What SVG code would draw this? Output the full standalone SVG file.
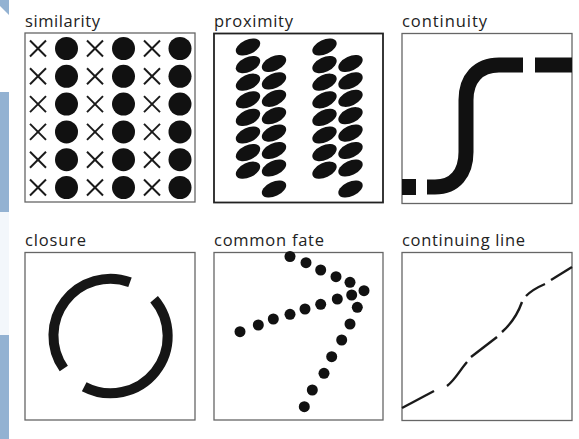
<svg xmlns="http://www.w3.org/2000/svg" width="579" height="439" viewBox="0 0 579 439">
<defs>
<style>
.bg{fill:#ffffff}
.strip{fill:#93b2d2}
.title{font-family:"Open Sans","DejaVu Sans",sans-serif;font-size:16.5px;fill:#222}
.box{fill:#fff;stroke:#666;stroke-width:1.3}
.box2{fill:#fff;stroke:#222;stroke-width:1.8}
.x{stroke:#1a1a1a;stroke-width:2;stroke-linecap:butt}
.dot{fill:#111}
.ell{fill:#111}
.thick{fill:none;stroke:#111;stroke-width:15;stroke-linecap:butt}
.ring{fill:none;stroke:#161616;stroke-width:10;stroke-linecap:butt}
.dash{fill:none;stroke:#1a1a1a;stroke-width:2.4;stroke-linecap:butt}
</style>
<g id="xm"><line class="x" x1="-8" y1="-8" x2="8" y2="8"/><line class="x" x1="-8" y1="8" x2="8" y2="-8"/></g>
<ellipse id="el" class="ell" rx="13" ry="7.3" transform="rotate(-25)"/>
</defs>
<rect class="bg" x="0" y="0" width="579" height="439"/>
<g id="edge">
<polygon class="strip" points="0,0 9,0 9,15 0,6"/>
<rect class="strip" x="0" y="92" width="9" height="120"/>
<rect x="0" y="212" width="9" height="123" fill="#f3f7fb"/>
<rect class="strip" x="0" y="335" width="9" height="104"/>
</g>

<g id="similarity">
<rect class="box" x="25" y="33" width="170" height="169"/>
<text class="title" x="25" y="27" textLength="75" lengthAdjust="spacing">similarity</text>
<g>
<use href="#xm" x="38" y="48.5"/><use href="#xm" x="95" y="48.5"/><use href="#xm" x="152" y="48.5"/>
<use href="#xm" x="38" y="76.3"/><use href="#xm" x="95" y="76.3"/><use href="#xm" x="152" y="76.3"/>
<use href="#xm" x="38" y="104.1"/><use href="#xm" x="95" y="104.1"/><use href="#xm" x="152" y="104.1"/>
<use href="#xm" x="38" y="131.9"/><use href="#xm" x="95" y="131.9"/><use href="#xm" x="152" y="131.9"/>
<use href="#xm" x="38" y="159.7"/><use href="#xm" x="95" y="159.7"/><use href="#xm" x="152" y="159.7"/>
<use href="#xm" x="38" y="187.5"/><use href="#xm" x="95" y="187.5"/><use href="#xm" x="152" y="187.5"/>
</g>
<g>
<circle class="dot" cx="66.5" cy="48.5" r="11.5"/><circle class="dot" cx="123.5" cy="48.5" r="11.5"/><circle class="dot" cx="180" cy="48.5" r="11.5"/>
<circle class="dot" cx="66.5" cy="76.3" r="11.5"/><circle class="dot" cx="123.5" cy="76.3" r="11.5"/><circle class="dot" cx="180" cy="76.3" r="11.5"/>
<circle class="dot" cx="66.5" cy="104.1" r="11.5"/><circle class="dot" cx="123.5" cy="104.1" r="11.5"/><circle class="dot" cx="180" cy="104.1" r="11.5"/>
<circle class="dot" cx="66.5" cy="131.9" r="11.5"/><circle class="dot" cx="123.5" cy="131.9" r="11.5"/><circle class="dot" cx="180" cy="131.9" r="11.5"/>
<circle class="dot" cx="66.5" cy="159.7" r="11.5"/><circle class="dot" cx="123.5" cy="159.7" r="11.5"/><circle class="dot" cx="180" cy="159.7" r="11.5"/>
<circle class="dot" cx="66.5" cy="187.5" r="11.5"/><circle class="dot" cx="123.5" cy="187.5" r="11.5"/><circle class="dot" cx="180" cy="187.5" r="11.5"/>
</g>
</g>

<g id="proximity">
<rect class="box2" x="214" y="33.5" width="169" height="169"/>
<text class="title" x="214" y="26.5" textLength="79" lengthAdjust="spacing">proximity</text>
<g transform="translate(248,0)">
<use href="#el" y="47"/><use href="#el" y="64.6"/><use href="#el" y="82.2"/><use href="#el" y="99.8"/><use href="#el" y="117.4"/><use href="#el" y="135"/><use href="#el" y="152.6"/><use href="#el" y="170.2"/>
</g>
<g transform="translate(274,0)">
<use href="#el" y="63.5"/><use href="#el" y="80.9"/><use href="#el" y="98.3"/><use href="#el" y="115.7"/><use href="#el" y="133.1"/><use href="#el" y="150.5"/><use href="#el" y="168"/><use href="#el" y="189"/>
</g>
<g transform="translate(324.5,0)">
<use href="#el" y="47"/><use href="#el" y="64.6"/><use href="#el" y="82.2"/><use href="#el" y="99.8"/><use href="#el" y="117.4"/><use href="#el" y="135"/><use href="#el" y="152.6"/><use href="#el" y="170.2"/>
</g>
<g transform="translate(350.5,0)">
<use href="#el" y="63.5"/><use href="#el" y="80.9"/><use href="#el" y="98.3"/><use href="#el" y="115.7"/><use href="#el" y="133.1"/><use href="#el" y="150.5"/><use href="#el" y="168"/><use href="#el" y="189"/>
</g>
</g>

<g id="continuity">
<rect class="box" x="402" y="33.5" width="170" height="170"/>
<text class="title" x="402" y="26.5" textLength="85" lengthAdjust="spacing">continuity</text>
<path class="thick" d="M427,187 H435 C455,187 466,173 466,152 V100 C466,79 478,65 499,65 H523"/>
<path class="thick" d="M535,65 H572"/>
<rect x="402" y="179" width="14" height="16" fill="#111"/>
</g>

<g id="closure">
<rect class="box" x="25" y="252.5" width="170" height="167.5"/>
<text class="title" x="25" y="246" textLength="61" lengthAdjust="spacing">closure</text>
<path class="ring" d="M63.8,368.5 A57,57 0 0 1 130,282.2"/>
<path class="ring" d="M154.1,299.3 A57,57 0 0 1 84.2,386.7"/>
</g>

<g id="commonfate">
<rect class="box" x="214" y="252.5" width="169" height="167.5"/>
<text class="title" x="214" y="246" textLength="110" lengthAdjust="spacing">common fate</text>
<g class="dot">
<circle cx="290" cy="256.5" r="5.5"/><circle cx="306" cy="262.7" r="5.5"/><circle cx="320.7" cy="270" r="5.5"/><circle cx="336" cy="276.7" r="5.5"/><circle cx="350" cy="282.3" r="5.5"/><circle cx="364" cy="290.7" r="5.5"/>
<circle cx="240" cy="331.7" r="5.5"/><circle cx="258.3" cy="325" r="5.5"/><circle cx="273.3" cy="319" r="5.5"/><circle cx="290" cy="314.3" r="5.5"/><circle cx="305" cy="309" r="5.5"/><circle cx="320.7" cy="304.3" r="5.5"/><circle cx="337.3" cy="299" r="5.5"/><circle cx="351.7" cy="295" r="5.5"/>
<circle cx="357.3" cy="307.3" r="5.5"/><circle cx="350" cy="324" r="5.5"/><circle cx="341.7" cy="340" r="5.5"/><circle cx="331.7" cy="356.7" r="5.5"/><circle cx="324" cy="373.3" r="5.5"/><circle cx="312.3" cy="390" r="5.5"/><circle cx="304.3" cy="406.7" r="5.5"/>
</g>
</g>

<g id="continuingline">
<rect class="box" x="402" y="252.5" width="170" height="168"/>
<text class="title" x="402" y="246" textLength="123" lengthAdjust="spacing">continuing line</text>
<path class="dash" d="M402,408 L434,391"/>
<path class="dash" d="M447,386 C455,380 460,370 467,362"/>
<path class="dash" d="M471,357 L497,337"/>
<path class="dash" d="M502,332 C511,324 517,316 522,302"/>
<path class="dash" d="M526,296 C532,290 538,287 545,284"/>
<path class="dash" d="M551,280 L572,267"/>
</g>
</svg>
